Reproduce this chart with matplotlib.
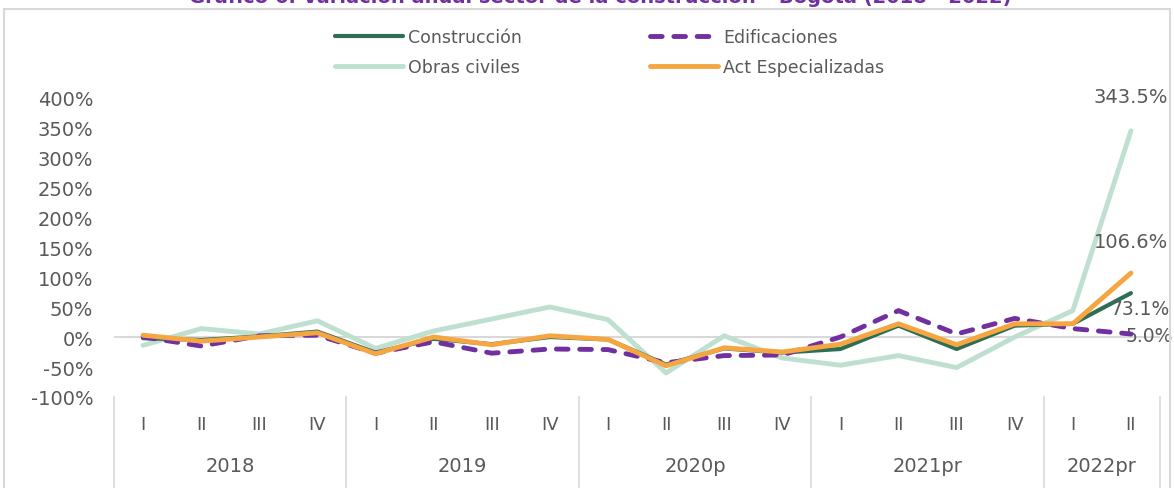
import matplotlib.pyplot as plt
from matplotlib.patches import Rectangle
from matplotlib.lines import Line2D

quarters = ["I", "II", "III", "IV"] * 4 + ["I", "II"]
years = ["2018", "2019", "2020p", "2021pr", "2022pr"]
year_sizes = [4, 4, 4, 4, 2]

construccion = [-2, -5, 1, 9, -26, -3, -12, 0, -4, -46, -19, -26, -20, 19, -20, 19, 22, 73.1]
edificaciones = [0, -15, 2, 3, -27, -8, -27, -20, -21, -43, -31, -30, 0, 44, 5, 31, 14, 5.0]
obras_civiles = [-14, 14, 5, 27, -19, 10, 30, 50, 29, -60, 2, -35, -47, -31, -51, 0, 44, 343.5]
act_especializadas = [3, -7, 0, 7, -28, 0, -13, 2, -4, -48, -18, -25, -12, 22, -13, 22, 22, 106.6]

TEXT = "#595959"
GREEN = "#2d6e54"
PURPLE = "#7030a0"
LIGHT = "#bfe0d0"
ORANGE = "#f5a640"
FONT = "DejaVu Sans"

plt.rcParams["font.family"] = FONT

fig = plt.figure(figsize=(11.74, 4.89), dpi=100)
W, H = 1174, 489

# chart border
fig.patches.append(Rectangle((4 / W, -0.05), 1166 / W, 1 - 10 / H + 0.05,
                             transform=fig.transFigure, fill=False,
                             edgecolor="#d9d9d9", lw=1.5))

# title, cut off at the top like the source
fig.text(600 / W, 1 - 3 / H,
         "Gráfico 6. Variación anual sector de la construcción – Bogotá (2018 - 2022)",
         ha="center", va="baseline", color=PURPLE, fontsize=14, fontweight="bold",
         family=["Liberation Sans Narrow", "DejaVu Sans"])

ax = fig.add_axes([114 / W, 1 - 398 / H, (1160 - 114) / W, 300 / H])
x = list(range(len(quarters)))

l1, = ax.plot(x, construccion, color=GREEN, lw=3, zorder=3, solid_capstyle="round")
l2, = ax.plot(x, edificaciones, color=PURPLE, lw=3.5, zorder=4, dashes=(2.4, 2.4),
              dash_capstyle="round")
l3, = ax.plot(x, obras_civiles, color=LIGHT, lw=3.5, zorder=2, solid_capstyle="round")
l4, = ax.plot(x, act_especializadas, color=ORANGE, lw=3.5, zorder=5, solid_capstyle="round")

ax.axhline(0, color="#d9d9d9", lw=1.5, zorder=1)
ax.set_xlim(-0.5, len(quarters) - 0.5)
ax.set_ylim(-100, 400)
ax.set_yticks(range(-100, 401, 50))
ax.set_yticklabels([f"{v}%" for v in range(-100, 401, 50)])
ax.tick_params(axis="y", length=0, pad=15, labelsize=14, labelcolor=TEXT)
ax.set_xticks([])
for s in ax.spines.values():
    s.set_visible(False)

# two-level category axis
tr = ax.get_xaxis_transform()
for i, q in enumerate(quarters):
    ax.text(i, -0.09, q, transform=tr, ha="center", va="center", fontsize=13, color=TEXT)
start = 0
bounds = [-0.5]
for name, n in zip(years, year_sizes):
    ax.text(start + (n - 1) / 2, -0.23, name, transform=tr, ha="center", va="center",
            fontsize=14, color=TEXT)
    start += n
    bounds.append(start - 0.5)
for b in bounds:
    ax.add_line(Line2D([b, b], [0, -0.32], transform=tr, color="#d9d9d9", lw=1.2,
                       clip_on=False))

# end labels
last = len(quarters) - 1
ax.annotate(f"{obras_civiles[-1]:.1f}%", (last, obras_civiles[-1]), xytext=(0, 25),
            textcoords="offset points", ha="center", va="center", fontsize=14, color=TEXT)
ax.annotate(f"{act_especializadas[-1]:.1f}%", (last, act_especializadas[-1]), xytext=(0, 23),
            textcoords="offset points", ha="center", va="center", fontsize=14, color=TEXT)
ax.annotate(f"{construccion[-1]:.1f}%", (last, construccion[-1]), xytext=(-15, -11),
            textcoords="offset points", ha="left", va="center", fontsize=13.5, color=TEXT)
ax.annotate(f"{edificaciones[-1]:.1f}%", (last, edificaciones[-1]), xytext=(-4, -1),
            textcoords="offset points", ha="left", va="center", fontsize=13.5, color=TEXT)

fig.legend([l1, l3, l2, l4],
           ["Construcción", "Obras civiles", "Edificaciones", "Act Especializadas"],
           ncol=2, loc="upper left", bbox_to_anchor=(335 / W, 1 - 29 / H),
           frameon=False, borderpad=0, borderaxespad=0, handlelength=3.9,
           handletextpad=0.3, columnspacing=7.4, labelspacing=0.7,
           fontsize=12.5, labelcolor=TEXT)

fig.savefig("out.png", dpi=100)
